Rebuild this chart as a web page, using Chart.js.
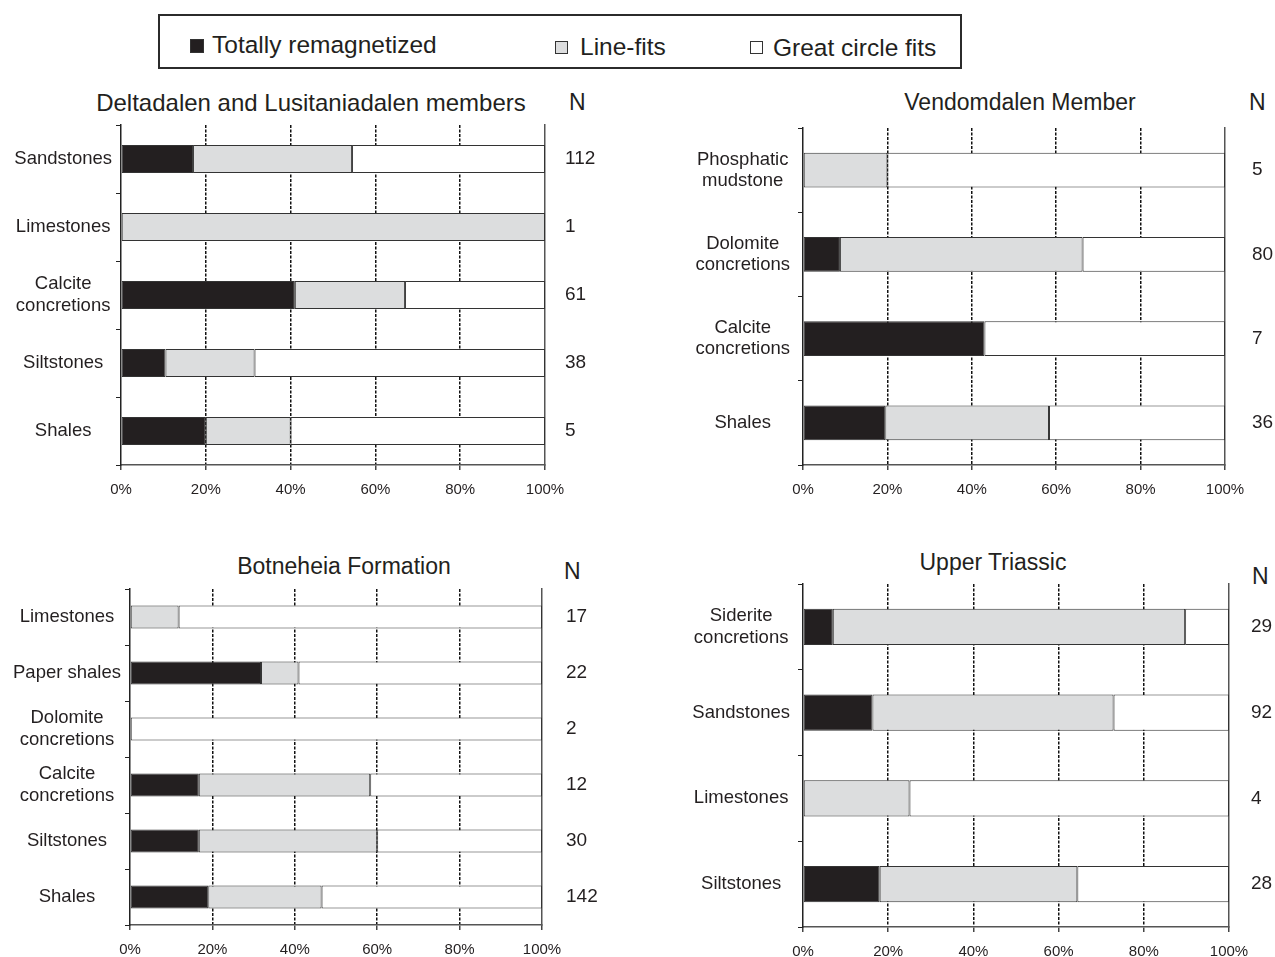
<!DOCTYPE html>
<html>
<head>
<meta charset="utf-8">
<script src="https://cdn.jsdelivr.net/npm/chart.js@4.4.1/dist/chart.umd.min.js"></script>
<style>
	body { margin: 0; background: #fff; font-family: 'Liberation Sans', Arial, sans-serif; color: #231f20; }
	#page { position: relative; width: 1275px; height: 957px; overflow: hidden; }
	canvas { position: absolute; }
	.txt { position: absolute; white-space: nowrap; }
	.title { font-size: 23px; text-align: center; }
	.nhead { font-size: 23px; }
	.legend-box { position: absolute; left: 158px; top: 14px; width: 804px; height: 55px; border: 2px solid #2b2b2b; box-sizing: border-box; }
	.sq { position: absolute; box-sizing: border-box; border: 1px solid #333; }
	.leg { position: absolute; font-size: 24.5px; line-height: 28px; white-space: nowrap; }
</style>
</head>
<body>
<div id="page">
	<!-- legend -->
	<div class="legend-box"></div>
	<div class="sq" style="left:190px; top:39px; width:14px; height:14px; background:#231f20;"></div>
	<div class="leg" style="left:212px; top:31px;">Totally remagnetized</div>
	<div class="sq" style="left:555px; top:41px; width:13px; height:13px; background:#dcddde;"></div>
	<div class="leg" style="left:580px; top:33px;">Line-fits</div>
	<div class="sq" style="left:750px; top:41px; width:13px; height:13px; background:#fff;"></div>
	<div class="leg" style="left:773px; top:34px;">Great circle fits</div>

	<!-- titles -->
	<div class="txt title" style="left:61px; width:500px; top:89px; font-size:24px;">Deltadalen and Lusitaniadalen members</div>
	<div class="txt nhead" style="left:569px; top:89px;">N</div>
	<div class="txt title" style="left:770px; width:500px; top:89px;">Vendomdalen Member</div>
	<div class="txt nhead" style="left:1249px; top:89px;">N</div>
	<div class="txt title" style="left:94px; width:500px; top:553px;">Botneheia Formation</div>
	<div class="txt nhead" style="left:564px; top:558px;">N</div>
	<div class="txt title" style="left:743px; width:500px; top:549px;">Upper Triassic</div>
	<div class="txt nhead" style="left:1252px; top:563px;">N</div>

	<canvas id="c1" width="630" height="385" style="left:0px; top:120px;"></canvas>
	<canvas id="c2" width="635" height="385" style="left:640px; top:120px;"></canvas>
	<canvas id="c3" width="630" height="377" style="left:0px; top:580px;"></canvas>
	<canvas id="c4" width="635" height="382" style="left:640px; top:575px;"></canvas>
</div>
<script>
// series names and percentage ticks
const series = ['Totally remagnetized', 'Line-fits', 'Great circle fits']
const seriesColors = ['#231f20', '#dcddde', '#ffffff']
const xTicks = [0, 20, 40, 60, 80, 100]

// Deltadalen and Lusitaniadalen members
const deltaCats = ['Sandstones', 'Limestones', ['Calcite', 'concretions'], 'Siltstones', 'Shales']
const deltaN = ['112', '1', '61', '38', '5']
const deltaRemag = [17, 0, 41, 10.5, 20]
const deltaLine = [37.5, 100, 26, 21, 20]
const deltaGreat = [45.5, 0, 33, 68.5, 60]

// Vendomdalen Member
const vendCats = [['Phosphatic', 'mudstone'], ['Dolomite', 'concretions'], ['Calcite', 'concretions'], 'Shales']
const vendN = ['5', '80', '7', '36']
const vendRemag = [0, 8.75, 43, 19.5]
const vendLine = [20, 57.5, 0, 38.8]
const vendGreat = [80, 33.75, 57, 41.7]

// Botneheia Formation
const botCats = ['Limestones', 'Paper shales', ['Dolomite', 'concretions'], ['Calcite', 'concretions'], 'Siltstones', 'Shales']
const botN = ['17', '22', '2', '12', '30', '142']
const botRemag = [0, 31.8, 0, 16.7, 16.7, 19]
const botLine = [11.8, 9.1, 0, 41.6, 43.3, 27.5]
const botGreat = [88.2, 59.1, 100, 41.7, 40, 53.5]

// Upper Triassic
const triCats = [['Siderite', 'concretions'], 'Sandstones', 'Limestones', 'Siltstones']
const triN = ['29', '92', '4', '28']
const triRemag = [7, 16.3, 0, 18]
const triLine = [82.7, 56.6, 25, 46.4]
const triGreat = [10.3, 27.1, 75, 35.6]

const fontFam = "'Liberation Sans', Arial, sans-serif"
const inkColor = '#231f20'

// fix an axis size and drop the label overhang padding so plot box is exact
function fixSize(s, prop, val) {
	s[prop] = val
	s.paddingTop = 0
	s.paddingBottom = 0
	s.paddingLeft = 0
	s.paddingRight = 0
}

// build one stacked horizontal bar panel
function makePanel(id, cats, nLabels, remag, line, great, dims) {
	let ctx = document.getElementById(id).getContext('2d')
	let values = [remag, line, great]
	return new Chart(ctx, {
		type: 'bar',
		data: {
			labels: cats,
			datasets: series.map((name, i) => ({
				label: name,
				data: values[i],
				backgroundColor: seriesColors[i],
				borderColor: '#333',
				borderWidth: 1,
				borderSkipped: false,
				categoryPercentage: 1,
				barPercentage: dims.bar,
			})),
		},
		options: {
			indexAxis: 'y',
			responsive: false,
			animation: false,
			layout: { padding: { top: dims.top, left: 0, right: 0, bottom: 0 } },
			plugins: { legend: { display: false }, tooltip: { enabled: false } },
			scales: {
				x: {
					stacked: true,
					min: 0,
					max: 100,
					afterBuildTicks: (s) => { s.ticks = xTicks.map((v) => ({ value: v })) },
					afterFit: (s) => fixSize(s, 'height', dims.xh),
					ticks: {
						callback: (v) => v + '%',
						color: inkColor,
						font: { family: fontFam, size: 15 },
						padding: 11,
						maxRotation: 0,
					},
					grid: {
						color: (c) => (c.tick && (c.tick.value === 0 || c.tick.value === 100)) ? 'rgba(0,0,0,0)' : '#111',
						lineWidth: 1.5,
						tickColor: '#444',
						tickLength: 5,
					},
					border: { color: '#555', width: 1.5, dash: [3, 1.5] },
				},
				y: {
					stacked: true,
					afterFit: (s) => fixSize(s, 'width', dims.yw),
					ticks: {
						crossAlign: 'center',
						padding: dims.ypad,
						color: inkColor,
						font: { family: fontFam, size: 18.5, lineHeight: 1.15 },
					},
					grid: { drawOnChartArea: false, color: '#222', tickLength: 5 },
					border: { color: '#222', width: 1.5 },
				},
				yN: {
					type: 'category',
					labels: nLabels,
					position: 'right',
					offset: true,
					afterFit: (s) => fixSize(s, 'width', dims.nw),
					grid: { display: false, drawTicks: false },
					border: { display: true, color: '#555', width: 1.5 },
					ticks: {
						padding: dims.npad,
						color: inkColor,
						font: { family: fontFam, size: 19 },
					},
				},
			},
		},
	})
}

makePanel('c1', deltaCats, deltaN, deltaRemag, deltaLine, deltaGreat,
	{ top: 5, yw: 121, nw: 85, xh: 40, npad: 20, ypad: 4, bar: 0.41 })
makePanel('c2', vendCats, vendN, vendRemag, vendLine, vendGreat,
	{ top: 8, yw: 163, nw: 50, xh: 40, npad: 27, ypad: 8, bar: 0.41 })
makePanel('c3', botCats, botN, botRemag, botLine, botGreat,
	{ top: 9, yw: 130, nw: 88, xh: 32, npad: 24, ypad: 4, bar: 0.41 })
makePanel('c4', triCats, triN, triRemag, triLine, triGreat,
	{ top: 9, yw: 163, nw: 46, xh: 30, npad: 22, ypad: 8, bar: 0.42 })
</script>
</body>
</html>
